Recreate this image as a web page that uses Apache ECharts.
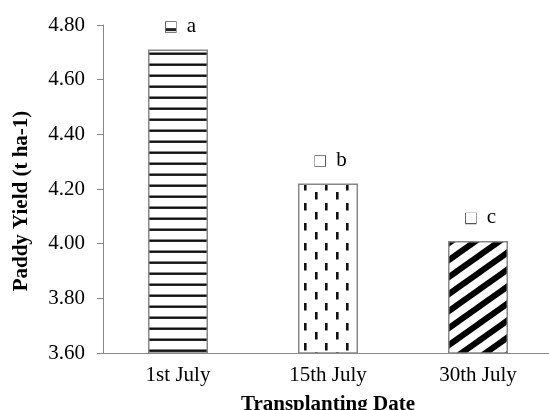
<!DOCTYPE html>
<html>
<head>
<meta charset="utf-8">
<script src="https://cdn.jsdelivr.net/npm/echarts@6/dist/echarts.min.js"></script>
<style>
  html, body { margin: 0; padding: 0; background: #fff; }
  #main { width: 549px; height: 410px; }
</style>
</head>
<body>
<div id="main"></div>
<script>
// data
let categories = ['1st July', '15th July', '30th July'];
let yieldValues = [4.71, 4.22, 4.01];
let letters = ['a', 'b', 'c'];
let yTicks = { min: 3.6, max: 4.8, interval: 0.2 };

// fill patterns drawn on small canvases
function makeTile(w, h, draw) {
  let c = document.createElement('canvas');
  c.width = w;
  c.height = h;
  let ctx = c.getContext('2d');
  ctx.fillStyle = '#fff';
  ctx.fillRect(0, 0, w, h);
  draw(ctx);
  return c;
}

let hLines = makeTile(10, 11, function (ctx) {
  ctx.fillStyle = '#111';
  ctx.fillRect(0, 8.5, 10, 2.4);
});

let dashes = makeTile(21, 20, function (ctx) {
  ctx.fillStyle = '#111';
  ctx.fillRect(10, 3, 2.6, 7.5);
  ctx.fillRect(0, 12, 2.6, 7.5);
});

let diag = makeTile(24, 17, function (ctx) {
  ctx.strokeStyle = '#000';
  ctx.lineWidth = 6;
  for (let k = -1; k <= 2; k++) {
    ctx.beginPath();
    ctx.moveTo(-24, 17 * k + 34);
    ctx.lineTo(48, 17 * k - 17);
    ctx.stroke();
  }
});

// legend-like squares next to the letters
let iconA = makeTile(10, 10, function (ctx) {
  ctx.fillStyle = '#222';
  ctx.fillRect(0, 6, 10, 3);
});
let iconPlain = makeTile(10, 10, function () {});

let patterns = [hLines, dashes, diag];
let icons = [iconA, iconPlain, iconPlain];

let myChart = echarts.init(document.getElementById('main'));
let serif = 'Liberation Serif';

let barData = yieldValues.map(function (v, i) {
  return {
    value: v,
    itemStyle: { color: { image: patterns[i], repeat: 'repeat' } },
    label: {
      formatter: '{box|}{t|' + letters[i] + '}',
      rich: {
        box: {
          width: 10,
          height: 10,
          borderColor: '#555',
          borderWidth: 1.5,
          backgroundColor: { image: icons[i] }
        },
        t: { fontFamily: serif, fontSize: 21, color: '#000', padding: [0, 0, 2, 11] }
      }
    }
  };
});

let option = {
  animation: false,
  grid: { left: 103, right: -4, top: 25, bottom: 57, outerBoundsMode: 'none' },
  xAxis: {
    type: 'category',
    data: categories,
    name: 'Transplanting Date',
    nameLocation: 'middle',
    nameGap: 41,
    nameTextStyle: { fontFamily: serif, fontSize: 21, fontWeight: 'bold', color: '#000' },
    axisLine: { lineStyle: { color: '#888', width: 1 } },
    axisTick: { length: 4, lineStyle: { color: '#888' } },
    axisLabel: { fontFamily: serif, fontSize: 21, color: '#000', margin: 12 }
  },
  yAxis: {
    type: 'value',
    min: yTicks.min,
    max: yTicks.max,
    interval: yTicks.interval,
    name: 'Paddy Yield (t ha-1)',
    nameLocation: 'middle',
    nameGap: 71,
    nameRotate: 90,
    nameTextStyle: {
      fontFamily: serif, fontSize: 21, fontWeight: 'bold', color: '#000',
      padding: [0, 24, 0, 0]
    },
    axisLine: { show: true, lineStyle: { color: '#888', width: 1 } },
    axisTick: { show: true, length: 6, lineStyle: { color: '#888' } },
    splitLine: { show: false },
    axisLabel: {
      fontFamily: serif, fontSize: 21, color: '#000', margin: 18,
      formatter: function (v) { return v.toFixed(2); }
    }
  },
  series: [{
    type: 'bar',
    data: barData,
    barWidth: 60,
    itemStyle: { borderColor: '#888', borderWidth: 1.5 },
    label: { show: true, position: 'top', distance: 11, offset: [3, 0] }
  }]
};

myChart.setOption(option);
</script>
</body>
</html>
